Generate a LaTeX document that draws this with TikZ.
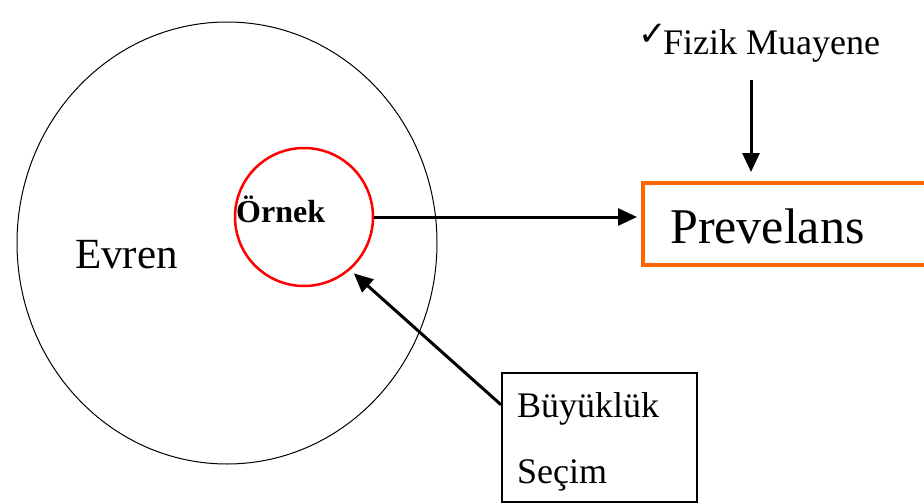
\documentclass[tikz,border=0pt]{standalone}
\usepackage{fontspec}
\setmainfont{Liberation Serif}
\newfontfamily\dejavu{DejaVu Sans}
\usetikzlibrary{arrows.meta,calc,shapes.geometric}
\definecolor{orng}{RGB}{255,102,0}
\begin{document}
\begin{tikzpicture}[x=1pt,y=-1pt,
  txt/.style={anchor=base west,inner sep=0pt},
  arr/.style={line width=3pt,-{Triangle[length=19pt,width=17pt]}},
]
\useasboundingbox (0,0) rectangle (924,503);
\clip (0,0) rectangle (924,503);
% universe ellipse
\node[draw,ellipse,line width=1pt,minimum width=420pt,minimum height=442pt,inner sep=0pt] (evren) at (227,243) {};
\node[txt] (evrenlbl) at (75,268) {\fontsize{43}{50}\selectfont Evren};
% sample circle
\node[draw=red,circle,line width=2.5pt,minimum size=138pt,inner sep=0pt] (ornek) at (304,217) {};
\node[txt] (orneklbl) at (236,222) {\fontsize{32}{38}\selectfont\bfseries Örnek};
% prevalence box
\node[draw=orng,line width=4pt,rectangle,minimum width=330pt,minimum height=82pt,inner sep=0pt] (prev) at (808,224) {};
\node[txt] (prevlbl) at (670,243) {\fontsize{50}{58}\selectfont Prevelans};
% physical exam
\node[txt] (chk) at (638,46) {\dejavu\fontsize{34}{38}\selectfont ✓};
\node[txt] (fizik) at (663,55) {\fontsize{36}{42}\selectfont Fizik Muayene};
\coordinate (fizikbot) at (751,80);
% size/selection box
\node[draw,line width=2pt,rectangle,minimum width=195pt,minimum height=129pt,inner sep=0pt] (buy) at (599.5,437.5) {};
\node[txt] (buylbl) at (517,417) {\fontsize{36}{42}\selectfont Büyüklük};
\node[txt] (seclbl) at (517,483) {\fontsize{36}{42}\selectfont Seçim};
% connectors
\draw[arr,shorten >=4pt] (ornek.east) -- (prev.west |- ornek.east);
\draw[arr,shorten >=9pt] (fizikbot) -- (fizikbot |- prev.north);
\draw[arr,shorten >=5pt] ($(buy.north west)!0.25!(buy.south west)$) -- (ornek.-49);
\end{tikzpicture}
\end{document}
